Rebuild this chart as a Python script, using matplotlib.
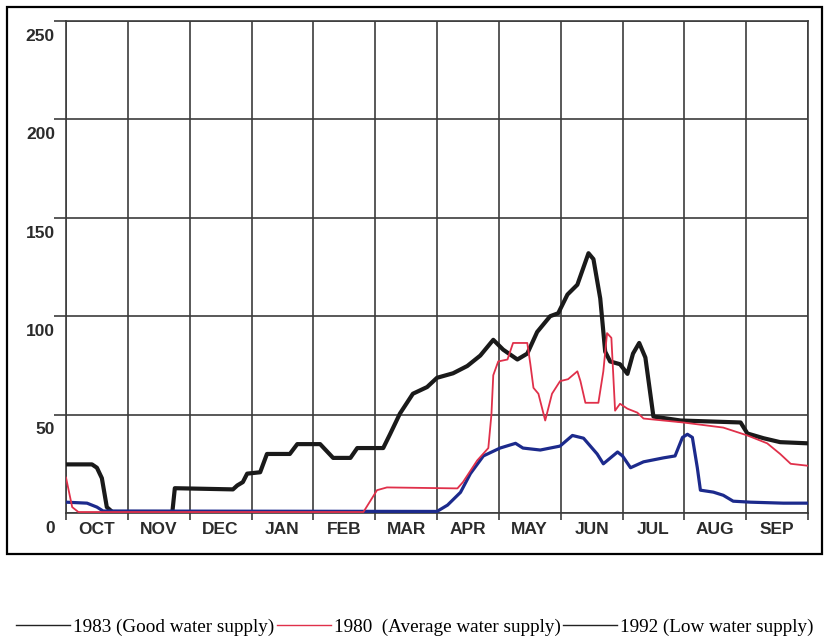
import numpy as np
import matplotlib.pyplot as plt
from matplotlib.lines import Line2D
from matplotlib.patches import Rectangle
from matplotlib.transforms import ScaledTranslation

# months since 1 Oct
months = ["OCT", "NOV", "DEC", "JAN", "FEB", "MAR", "APR", "MAY", "JUN", "JUL", "AUG", "SEP"]
yticks = [0, 50, 100, 150, 200, 250]

### 1983 (good water supply)
t1983 = [0.0, 0.42, 0.50, 0.58, 0.66, 0.75, 1.72, 1.76, 2.70, 2.77, 2.86, 2.93, 3.14, 3.25, 3.62, 3.74,
         4.11, 4.32, 4.60, 4.71, 5.13, 5.24, 5.40, 5.61, 5.84, 6.00, 6.26, 6.49, 6.70, 6.91, 7.07,
         7.30, 7.46, 7.62, 7.83, 7.96, 8.11, 8.27, 8.45, 8.53, 8.64, 8.72, 8.80, 8.96, 9.08, 9.17,
         9.27, 9.37, 9.50, 9.94, 10.91, 11.02, 11.28, 11.55, 12.0]
v1983 = [24.7, 24.7, 23, 17.7, 3, 0.5, 0.5, 12.6, 12, 14, 15.7, 20, 20.7, 30, 30, 35,
         35, 28, 28, 33, 33, 40, 50.5, 60.6, 64, 68.7, 71, 74.7, 80, 88, 83,
         78, 81, 92, 100, 101.5, 111, 116, 132, 129, 109, 82, 77, 75.6, 70.7, 81,
         86.4, 79, 49, 47, 46, 40.4, 38, 36, 35.4]

### 1980 (average water supply)
t1980 = [0.0, 0.10, 0.2, 4.81, 5.03, 5.19, 6.33, 6.42, 6.65, 6.83, 6.88, 6.91, 6.99, 7.14, 7.23,
         7.46, 7.51, 7.56, 7.64, 7.75, 7.86, 7.99, 8.12, 8.27, 8.32, 8.40, 8.61, 8.69, 8.75, 8.82,
         8.88, 8.96, 9.08, 9.24, 9.34, 9.98, 10.63, 11.02, 11.34, 11.55, 11.72, 12.0]
v1980 = [18, 3, 0.5, 0.5, 11.6, 13, 12.5, 15.7, 26.7, 33, 50, 70, 77, 78, 86.4,
         86.4, 75.6, 63.6, 60.6, 47, 60.6, 67, 68, 72, 67, 56, 56, 72, 91.4, 89,
         52, 55.5, 53, 51, 48, 46, 43.4, 39.4, 35.4, 30, 25, 24]

### 1992 (low water supply)
t1992 = [0.0, 0.34, 0.50, 0.60, 6.00, 6.17, 6.38, 6.54, 6.75, 7.02, 7.27, 7.39, 7.67, 7.99, 8.19,
         8.37, 8.59, 8.69, 8.92, 9.00, 9.13, 9.34, 9.66, 9.85, 9.97, 10.05, 10.13, 10.21, 10.26,
         10.47, 10.63, 10.79, 11.07, 11.60, 12.0]
v1992 = [5.5, 5, 3, 1, 0.8, 4, 10.5, 20, 29, 33, 35.4, 33, 32, 34, 39.4,
         38, 30, 25, 31, 29, 23, 26, 28, 29, 38.4, 40, 38.4, 23, 11.6,
         10.6, 9, 6, 5.5, 5, 5]

grid_c = "#3c3c3c"
txt_c = "#2b2b2b"

fig = plt.figure(figsize=(8.25, 6.4), dpi=100)
fig.patches.append(Rectangle((7/825, 1-554/640), 815/825, 547/640, transform=fig.transFigure,
                             fill=False, edgecolor="black", linewidth=1.6))

ax = fig.add_axes([66/825, 1-513/640, 742/825, 492/640])

ax.plot(t1983, v1983, color="#1a1a1a", lw=3.0, solid_joinstyle="round", zorder=3)
ax.plot(t1980, v1980, color="#e0304a", lw=1.3, zorder=4)
ax.plot(t1992, v1992, color="#1c2a8c", lw=2.3, zorder=3)

ax.set_xlim(0, 12)
ax.set_ylim(0, 250)

# month grid + labels in between
ax.set_xticks(np.arange(13))
ax.set_xticklabels([])
ax.set_xticks(np.arange(12) + 0.5, minor=True)
ax.set_xticklabels(months, minor=True, fontsize=12.5, fontweight="bold", color=txt_c,
                   family=["Liberation Sans", "DejaVu Sans"])
ax.tick_params(axis="x", which="major", length=5, width=1.2, color=grid_c, direction="out")
ax.tick_params(axis="x", which="minor", length=0, pad=6.5)

ax.set_yticks(yticks)
ax.set_yticklabels([str(v) for v in yticks], fontsize=12.5, fontweight="bold", color=txt_c,
                   family=["Liberation Sans", "DejaVu Sans"])
ax.tick_params(axis="y", length=9, width=1.2, color=grid_c, direction="out", pad=-1)
ax.yaxis.get_major_ticks()[0].tick1line.set_visible(False)
off = ScaledTranslation(0, -10/72, fig.dpi_scale_trans)
for lab in ax.get_yticklabels():
    lab.set_transform(lab.get_transform() + off)

ax.grid(True, which="major", color=grid_c, lw=1.2)
for s in ax.spines.values():
    s.set_color(grid_c)
    s.set_linewidth(1.2)

handles = [Line2D([], [], color="#222222", lw=1.0),
           Line2D([], [], color="#e0304a", lw=1.0),
           Line2D([], [], color="#222222", lw=1.0)]
labels = ["1983 (Good water supply)", "1980  (Average water supply)", "1992 (Low water supply)"]
fig.legend(handles, labels, loc="center", bbox_to_anchor=(0.503, 1-627/640), ncol=3, frameon=False,
           handlelength=2.8, handletextpad=0.15, columnspacing=0.15, borderpad=0, borderaxespad=0,
           prop={"family": ["Liberation Serif", "DejaVu Serif"], "size": 13.8})

fig.savefig("out.png", dpi=100)
